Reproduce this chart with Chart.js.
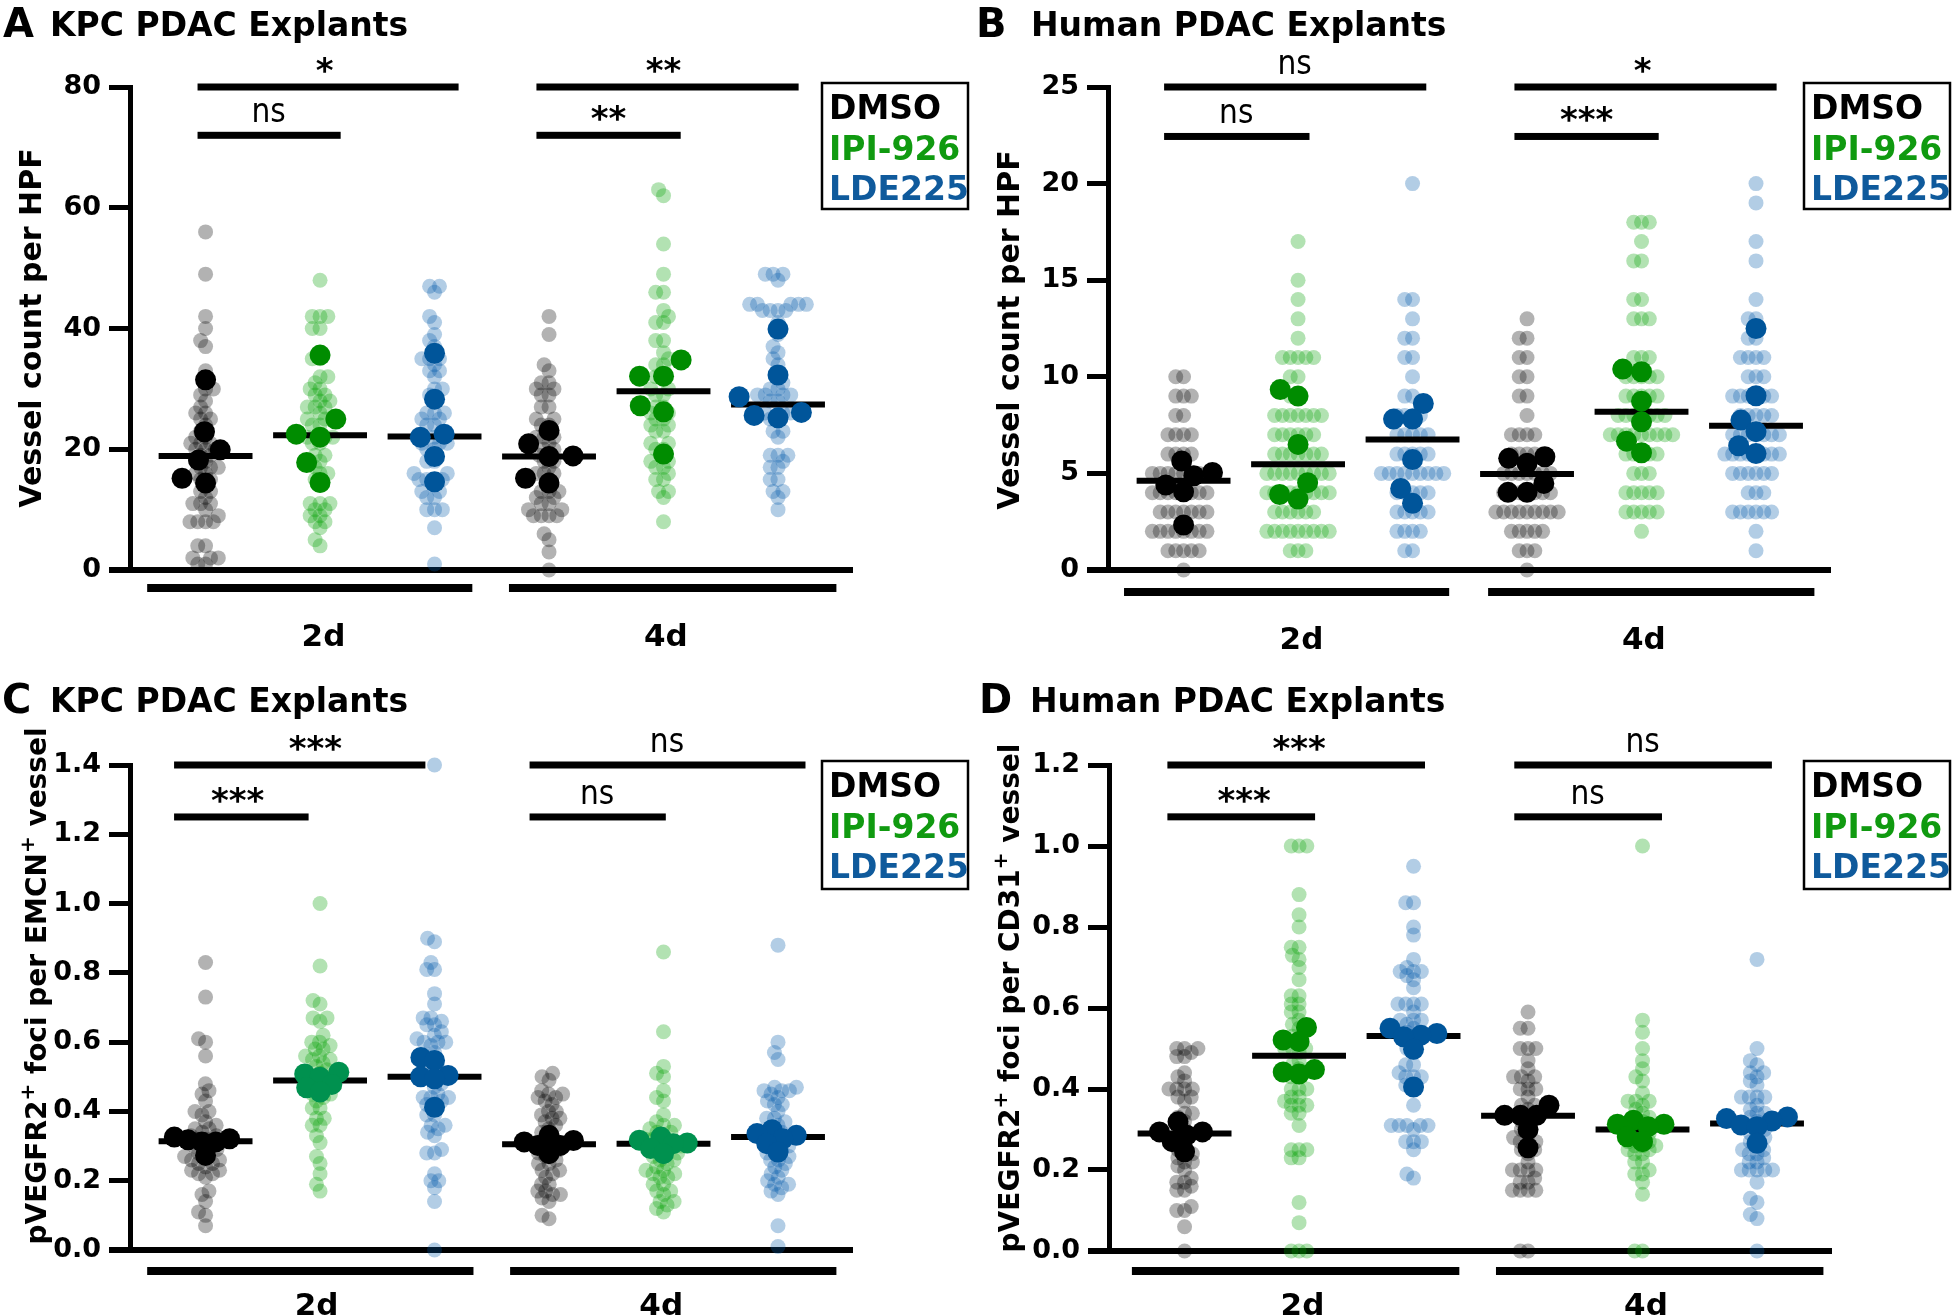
<!DOCTYPE html>
<html>
<head>
<meta charset="utf-8">
<script src="https://cdn.jsdelivr.net/npm/chart.js@4.4.1/dist/chart.umd.min.js"></script>
<style>
  html, body { margin: 0; padding: 0; background: #fff; }
  #wrap { position: relative; width: 1952px; height: 1316px; overflow: hidden; }
  canvas { position: absolute; }
</style>
</head>
<body>
<div id="wrap">
  <canvas id="cA" width="976" height="660" style="left:0;top:0"></canvas>
  <canvas id="cB" width="976" height="660" style="left:976px;top:0"></canvas>
  <canvas id="cC" width="976" height="656" style="left:0;top:660px"></canvas>
  <canvas id="cD" width="976" height="656" style="left:976px;top:660px"></canvas>
</div>
<script>
// Explant swarm plots: small faded dots = single fields, big dots = per-explant means,
// black bar = group mean. Group order: DMSO 2d, IPI-926 2d, LDE225 2d, DMSO 4d, IPI-926 4d, LDE225 4d

const TREATMENTS = ["DMSO", "IPI-926", "LDE225"];
const DAYS = ["2d", "4d"];

// ---- Panel A: KPC vessel count per HPF ----
const A_DMSO_2d = [56, 49, 42, 40, 38, 37, 33, 30, 30, 29, 28, 27, 26, 26, 25, 25, 24, 23, 22, 22, 21, 21, 21, 20, 20, 20, 19, 19, 18, 18, 17, 17, 17, 16, 16, 15, 15, 14, 13, 13, 12, 11, 11, 11, 10, 9, 8, 8, 8, 8, 4, 4, 2, 2, 2, 1, 1];
const A_IPI_2d = [48, 42, 42, 42, 40, 40, 35, 35, 32, 32, 31, 30, 30, 29, 29, 28, 28, 27, 27, 27, 26, 25, 25, 25, 24, 24, 22, 22, 22, 21, 21, 19, 19, 18, 17, 16, 16, 15, 14, 11, 11, 11, 10, 10, 9, 9, 8, 8, 7, 5, 4];
const A_LDE_2d = [47, 47, 46, 42, 41, 39, 38, 37, 35, 35, 35, 34, 33, 33, 32, 30, 30, 29, 28, 26, 26, 26, 25, 25, 24, 24, 22, 21, 21, 21, 20, 20, 18, 18, 16, 16, 15, 15, 15, 15, 13, 13, 12, 12, 10, 10, 10, 7, 1];
const A_DMSO_4d = [42, 39, 34, 33, 31, 31, 30, 30, 29, 29, 27, 27, 25, 25, 24, 24, 22, 22, 22, 21, 20, 20, 19, 19, 18, 18, 17, 16, 16, 16, 15, 13, 13, 13, 12, 12, 11, 11, 10, 10, 9, 9, 9, 9, 6, 5, 3, 0];
const A_IPI_4d = [63, 62, 54, 49, 46, 46, 43, 42, 41, 41, 38, 38, 36, 35, 34, 34, 32, 32, 30, 30, 29, 29, 27, 27, 26, 26, 25, 25, 24, 24, 23, 23, 21, 21, 20, 20, 18, 18, 17, 17, 16, 15, 15, 13, 13, 12, 8];
const A_LDE_4d = [49, 49, 49, 48, 44, 44, 44, 44, 44, 43, 43, 43, 43, 41, 39, 37, 36, 35, 34, 31, 30, 30, 29, 29, 29, 29, 28, 28, 26, 26, 26, 25, 25, 23, 23, 22, 19, 19, 19, 18, 17, 17, 15, 15, 13, 13, 12, 10];
const A_EXPLANT_DMSO_2d = [31.5, 22.9, 19.9, 18.2, 15.2, 14.4];
const A_EXPLANT_IPI_2d = [35.6, 25.0, 22.5, 22.0, 17.8, 14.5];
const A_EXPLANT_LDE_2d = [35.9, 28.3, 22.5, 22.0, 18.8, 14.6];
const A_EXPLANT_DMSO_4d = [23.1, 20.9, 18.9, 18.8, 15.2, 14.4];
const A_EXPLANT_IPI_4d = [34.8, 32.1, 32.1, 27.2, 26.2, 19.2];
const A_EXPLANT_LDE_4d = [39.9, 32.3, 28.7, 26.1, 25.6, 25.2];
const A_MEANS = [18.9, 22.3, 22.1, 18.8, 29.6, 27.4];
const A_TICKS = [0, 20, 40, 60, 80];

// ---- Panel B: human vessel count per HPF ----
const B_DMSO_2d = [0, 1, 1, 1, 1, 1, 2, 2, 2, 2, 2, 2, 2, 2, 3, 3, 3, 3, 3, 3, 3, 4, 4, 4, 4, 4, 4, 4, 4, 5, 5, 5, 5, 5, 5, 5, 5, 5, 6, 6, 6, 6, 7, 7, 7, 7, 8, 8, 9, 9, 9, 10, 10];
const B_IPI_2d = [1, 1, 1, 2, 2, 2, 2, 2, 2, 2, 2, 2, 3, 3, 3, 3, 3, 3, 4, 4, 4, 4, 4, 4, 4, 4, 4, 5, 5, 5, 5, 5, 5, 5, 5, 5, 6, 6, 6, 6, 6, 6, 6, 7, 7, 7, 7, 7, 7, 8, 8, 8, 8, 8, 8, 8, 9, 9, 10, 10, 11, 11, 11, 11, 11, 12, 13, 14, 15, 17];
const B_LDE_2d = [1, 1, 2, 2, 2, 2, 3, 3, 3, 3, 3, 4, 4, 4, 4, 4, 5, 5, 5, 5, 5, 5, 5, 5, 5, 6, 6, 6, 6, 6, 7, 7, 7, 7, 7, 8, 8, 8, 8, 9, 9, 10, 11, 11, 12, 12, 13, 14, 14, 20];
const B_DMSO_4d = [0, 1, 1, 1, 2, 2, 2, 2, 2, 3, 3, 3, 3, 3, 3, 3, 3, 3, 4, 4, 4, 4, 4, 4, 4, 5, 5, 5, 5, 5, 5, 5, 6, 6, 6, 6, 6, 7, 7, 7, 7, 8, 9, 9, 10, 10, 11, 11, 12, 12, 13];
const B_IPI_4d = [2, 3, 3, 3, 3, 3, 4, 4, 4, 4, 4, 5, 5, 5, 6, 6, 6, 6, 6, 7, 7, 7, 7, 7, 7, 7, 7, 7, 8, 8, 8, 8, 8, 8, 8, 9, 9, 9, 9, 9, 10, 10, 10, 10, 10, 11, 11, 11, 13, 13, 13, 14, 14, 16, 16, 17, 18, 18, 18];
const B_LDE_4d = [1, 2, 3, 3, 3, 3, 3, 3, 4, 4, 4, 5, 5, 5, 5, 5, 5, 6, 6, 6, 6, 6, 6, 6, 6, 7, 7, 7, 7, 7, 7, 7, 8, 8, 8, 8, 8, 9, 9, 9, 9, 9, 9, 10, 10, 10, 11, 11, 11, 11, 12, 12, 13, 13, 14, 16, 17, 19, 20];
const B_EXPLANT_DMSO_2d = [5.64, 5.05, 4.88, 4.4, 4.05, 2.33];
const B_EXPLANT_IPI_2d = [9.34, 9.0, 6.5, 4.52, 3.91, 3.67];
const B_EXPLANT_LDE_2d = [8.62, 7.81, 7.81, 5.72, 4.22, 3.45];
const B_EXPLANT_DMSO_4d = [5.86, 5.78, 5.52, 4.48, 4.02, 4.02];
const B_EXPLANT_IPI_4d = [10.4, 10.26, 8.74, 7.67, 6.67, 6.07];
const B_EXPLANT_LDE_4d = [12.5, 9.02, 7.76, 7.16, 6.43, 6.03];
const B_MEANS = [4.62, 5.48, 6.76, 4.97, 8.19, 7.47];
const B_TICKS = [0, 5, 10, 15, 20, 25];

// ---- Panel C: KPC pVEGFR2+ foci per EMCN+ vessel ----
const C_DMSO_2d = [0.83, 0.73, 0.61, 0.60, 0.56, 0.48, 0.46, 0.45, 0.43, 0.40, 0.40, 0.39, 0.37, 0.36, 0.35, 0.35, 0.34, 0.33, 0.33, 0.32, 0.32, 0.31, 0.31, 0.30, 0.30, 0.29, 0.29, 0.28, 0.27, 0.27, 0.26, 0.26, 0.25, 0.25, 0.24, 0.23, 0.23, 0.22, 0.22, 0.21, 0.17, 0.16, 0.14, 0.11, 0.10, 0.07];
const C_IPI_2d = [1.0, 0.82, 0.72, 0.71, 0.67, 0.67, 0.66, 0.62, 0.60, 0.60, 0.59, 0.58, 0.58, 0.56, 0.56, 0.55, 0.55, 0.54, 0.53, 0.52, 0.51, 0.50, 0.50, 0.49, 0.48, 0.47, 0.46, 0.45, 0.45, 0.44, 0.43, 0.41, 0.41, 0.38, 0.38, 0.36, 0.36, 0.33, 0.31, 0.27, 0.25, 0.22, 0.19, 0.17];
const C_LDE_2d = [1.40, 0.90, 0.89, 0.83, 0.81, 0.81, 0.74, 0.71, 0.67, 0.67, 0.66, 0.65, 0.65, 0.63, 0.62, 0.61, 0.60, 0.60, 0.60, 0.59, 0.57, 0.55, 0.53, 0.51, 0.50, 0.48, 0.47, 0.45, 0.44, 0.44, 0.44, 0.43, 0.42, 0.42, 0.39, 0.39, 0.36, 0.36, 0.35, 0.34, 0.33, 0.29, 0.28, 0.28, 0.22, 0.20, 0.20, 0.18, 0.14, 0.0];
const C_DMSO_4d = [0.51, 0.50, 0.49, 0.46, 0.45, 0.45, 0.44, 0.44, 0.43, 0.42, 0.40, 0.40, 0.39, 0.38, 0.38, 0.37, 0.36, 0.35, 0.34, 0.33, 0.32, 0.31, 0.30, 0.30, 0.29, 0.28, 0.28, 0.27, 0.26, 0.25, 0.25, 0.23, 0.23, 0.22, 0.21, 0.19, 0.19, 0.17, 0.17, 0.16, 0.16, 0.15, 0.14, 0.10, 0.09];
const C_IPI_4d = [0.86, 0.63, 0.53, 0.51, 0.50, 0.46, 0.44, 0.43, 0.39, 0.37, 0.36, 0.36, 0.35, 0.34, 0.34, 0.33, 0.32, 0.32, 0.31, 0.31, 0.30, 0.30, 0.30, 0.29, 0.28, 0.28, 0.27, 0.26, 0.26, 0.25, 0.24, 0.23, 0.23, 0.22, 0.22, 0.21, 0.21, 0.19, 0.19, 0.17, 0.17, 0.16, 0.14, 0.14, 0.13, 0.12, 0.11];
const C_LDE_4d = [0.88, 0.60, 0.57, 0.55, 0.47, 0.47, 0.46, 0.46, 0.46, 0.45, 0.44, 0.43, 0.42, 0.42, 0.40, 0.38, 0.38, 0.37, 0.36, 0.35, 0.34, 0.34, 0.33, 0.33, 0.32, 0.32, 0.31, 0.30, 0.30, 0.29, 0.28, 0.28, 0.27, 0.26, 0.26, 0.25, 0.24, 0.23, 0.22, 0.21, 0.20, 0.19, 0.19, 0.18, 0.17, 0.16, 0.07, 0.01];
const C_EXPLANT_DMSO_2d = [0.326, 0.321, 0.318, 0.312, 0.312, 0.273];
const C_EXPLANT_IPI_2d = [0.513, 0.508, 0.499, 0.478, 0.468, 0.456];
const C_EXPLANT_LDE_2d = [0.556, 0.547, 0.504, 0.50, 0.494, 0.412];
const C_EXPLANT_DMSO_4d = [0.331, 0.316, 0.312, 0.302, 0.302, 0.278];
const C_EXPLANT_IPI_4d = [0.326, 0.317, 0.309, 0.307, 0.293, 0.278];
const C_EXPLANT_LDE_4d = [0.347, 0.336, 0.331, 0.321, 0.307, 0.283];
const C_MEANS = [0.314, 0.489, 0.50, 0.305, 0.307, 0.326];
const C_TICKS = [0, 0.2, 0.4, 0.6, 0.8, 1.0, 1.2, 1.4];

// ---- Panel D: human pVEGFR2+ foci per CD31+ vessel ----
const D_DMSO_2d = [0.50, 0.50, 0.50, 0.49, 0.48, 0.48, 0.44, 0.43, 0.42, 0.40, 0.40, 0.40, 0.40, 0.38, 0.38, 0.37, 0.34, 0.34, 0.33, 0.32, 0.31, 0.30, 0.29, 0.28, 0.27, 0.26, 0.25, 0.24, 0.24, 0.23, 0.22, 0.22, 0.21, 0.20, 0.18, 0.17, 0.17, 0.16, 0.15, 0.15, 0.11, 0.10, 0.10, 0.06, 0.0];
const D_IPI_2d = [1.0, 1.0, 1.0, 0.88, 0.83, 0.80, 0.75, 0.75, 0.73, 0.72, 0.70, 0.67, 0.63, 0.63, 0.61, 0.61, 0.59, 0.59, 0.57, 0.56, 0.55, 0.53, 0.52, 0.50, 0.50, 0.50, 0.49, 0.47, 0.46, 0.45, 0.43, 0.43, 0.40, 0.40, 0.40, 0.38, 0.38, 0.37, 0.36, 0.36, 0.36, 0.34, 0.34, 0.31, 0.25, 0.25, 0.25, 0.23, 0.23, 0.12, 0.07, 0.0, 0.0, 0.0];
const D_LDE_2d = [0.95, 0.86, 0.86, 0.80, 0.78, 0.72, 0.70, 0.69, 0.69, 0.69, 0.68, 0.67, 0.65, 0.61, 0.61, 0.61, 0.61, 0.59, 0.57, 0.57, 0.57, 0.56, 0.55, 0.54, 0.53, 0.52, 0.51, 0.50, 0.49, 0.46, 0.46, 0.44, 0.43, 0.43, 0.43, 0.41, 0.41, 0.36, 0.31, 0.31, 0.31, 0.31, 0.31, 0.30, 0.27, 0.27, 0.27, 0.25, 0.19, 0.18];
const D_DMSO_4d = [0.59, 0.55, 0.55, 0.50, 0.50, 0.50, 0.47, 0.45, 0.43, 0.43, 0.43, 0.42, 0.40, 0.40, 0.40, 0.38, 0.36, 0.36, 0.35, 0.34, 0.33, 0.32, 0.31, 0.30, 0.29, 0.28, 0.27, 0.27, 0.27, 0.25, 0.25, 0.24, 0.22, 0.20, 0.20, 0.20, 0.20, 0.18, 0.17, 0.17, 0.15, 0.15, 0.15, 0.15, 0.0, 0.0];
const D_IPI_4d = [1.0, 0.57, 0.54, 0.50, 0.47, 0.45, 0.43, 0.42, 0.39, 0.37, 0.37, 0.37, 0.36, 0.35, 0.34, 0.33, 0.32, 0.32, 0.31, 0.31, 0.30, 0.30, 0.29, 0.29, 0.28, 0.28, 0.27, 0.27, 0.26, 0.26, 0.26, 0.25, 0.25, 0.24, 0.24, 0.22, 0.22, 0.20, 0.19, 0.19, 0.17, 0.14, 0.0, 0.0];
const D_LDE_4d = [0.72, 0.50, 0.47, 0.46, 0.44, 0.44, 0.43, 0.42, 0.41, 0.38, 0.38, 0.38, 0.38, 0.36, 0.35, 0.34, 0.34, 0.33, 0.32, 0.31, 0.30, 0.30, 0.29, 0.28, 0.28, 0.27, 0.26, 0.25, 0.25, 0.24, 0.24, 0.23, 0.22, 0.22, 0.20, 0.20, 0.20, 0.20, 0.20, 0.17, 0.13, 0.12, 0.09, 0.08, 0.0];
const D_EXPLANT_DMSO_2d = [0.319, 0.294, 0.294, 0.286, 0.27, 0.245];
const D_EXPLANT_IPI_2d = [0.552, 0.521, 0.517, 0.448, 0.442, 0.437];
const D_EXPLANT_LDE_2d = [0.55, 0.537, 0.533, 0.529, 0.498, 0.405];
const D_EXPLANT_DMSO_4d = [0.36, 0.335, 0.335, 0.335, 0.30, 0.255];
const D_EXPLANT_IPI_4d = [0.323, 0.313, 0.313, 0.307, 0.282, 0.27];
const D_EXPLANT_LDE_4d = [0.331, 0.327, 0.321, 0.311, 0.307, 0.266];
const D_MEANS = [0.29, 0.482, 0.531, 0.334, 0.30, 0.315];
const D_TICKS = [0, 0.2, 0.4, 0.6, 0.8, 1.0, 1.2];

// -----------------------------------------------------------------------
// Styling
// -----------------------------------------------------------------------
const FONT = "'DejaVu Sans', sans-serif";
const SMALL_COLORS = ["rgba(0,0,0,0.3)", "rgba(0,160,0,0.3)", "rgba(0,90,170,0.3)"];
const BIG_COLORS = ["#000000", "#008c00", "#00559a"];
const LEGEND_COLORS = ["#000000", "#109a10", "#0f5a9c"];
const SMALL_R = 7.5;
const BIG_R = 10.5;
const SMALL_GAP = 7.8;   // px between neighbouring faded dots in the swarm

Chart.defaults.font.family = FONT;

const PANELS = [
    {
        canvas: "cA", yMax: 80, ticks: A_TICKS, decimals: 0,
        small: [A_DMSO_2d, A_IPI_2d, A_LDE_2d, A_DMSO_4d, A_IPI_4d, A_LDE_4d],
        big: [A_EXPLANT_DMSO_2d, A_EXPLANT_IPI_2d, A_EXPLANT_LDE_2d, A_EXPLANT_DMSO_4d, A_EXPLANT_IPI_4d, A_EXPLANT_LDE_4d],
        means: A_MEANS, bigGap: 24, bigGreen: "#008c00",
        pad: { left: 0, top: 87, right: 123, bottom: 90 }, axisW: 130,
        letter: "A", letterX: 3, title: "KPC PDAC Explants", titleX: 50, titleY: 36,
        yTitle: [["Vessel count per HPF", 0]], yTitleX: 41, yTitleY: 328, yTitleSize: 30,
        sig: [
            { x0: -0.07, x1: 2.21, v: 80, t: "*", tx: 1.04 },
            { x0: -0.07, x1: 1.18, v: 72, t: "ns", tx: 0.55 },
            { x0: 2.89, x1: 5.18, v: 80, t: "**", tx: 4.0 },
            { x0: 2.89, x1: 4.15, v: 72, t: "**", tx: 3.52 },
        ],
        bars: [[-0.51, 2.33], [2.65, 5.51]], barY: 588, labelX: [1.03, 4.02], labelY: 646,
        legend: { x: 822, y: 83, w: 146, h: 126 },
    },
    {
        canvas: "cB", yMax: 25, ticks: B_TICKS, decimals: 0,
        small: [B_DMSO_2d, B_IPI_2d, B_LDE_2d, B_DMSO_4d, B_IPI_4d, B_LDE_4d],
        big: [B_EXPLANT_DMSO_2d, B_EXPLANT_IPI_2d, B_EXPLANT_LDE_2d, B_EXPLANT_DMSO_4d, B_EXPLANT_IPI_4d, B_EXPLANT_LDE_4d],
        means: B_MEANS, bigGap: 19, bigGreen: "#008c00",
        pad: { left: 0, top: 87, right: 121, bottom: 90 }, axisW: 132,
        letter: "B", letterX: 0, title: "Human PDAC Explants", titleX: 55, titleY: 36,
        yTitle: [["Vessel count per HPF", 0]], yTitleX: 43, yTitleY: 330, yTitleSize: 30,
        sig: [
            { x0: -0.17, x1: 2.12, v: 25, t: "ns", tx: 0.97 },
            { x0: -0.17, x1: 1.10, v: 22.44, t: "ns", tx: 0.46 },
            { x0: 2.89, x1: 5.18, v: 25, t: "*", tx: 4.01 },
            { x0: 2.89, x1: 4.15, v: 22.44, t: "***", tx: 3.52 },
        ],
        bars: [[-0.52, 2.32], [2.66, 5.51]], barY: 592, labelX: [1.03, 4.02], labelY: 649,
        legend: { x: 828, y: 83, w: 146, h: 126 },
    },
    {
        canvas: "cC", yMax: 1.4, ticks: C_TICKS, decimals: 1,
        small: [C_DMSO_2d, C_IPI_2d, C_LDE_2d, C_DMSO_4d, C_IPI_4d, C_LDE_4d],
        big: [C_EXPLANT_DMSO_2d, C_EXPLANT_IPI_2d, C_EXPLANT_LDE_2d, C_EXPLANT_DMSO_4d, C_EXPLANT_IPI_4d, C_EXPLANT_LDE_4d],
        means: C_MEANS, bigGap: 14, bigGreen: "#00914f",
        pad: { left: 0, top: 105, right: 123, bottom: 66 }, axisW: 130,
        letter: "C", letterX: 2, title: "KPC PDAC Explants", titleX: 50, titleY: 52,
        yTitle: [["pVEGFR2", 0], ["+", 1], [" foci per EMCN", 0], ["+", 1], [" vessel", 0]],
        yTitleX: 46, yTitleY: 326, yTitleSize: 28,
        sig: [
            { x0: -0.275, x1: 1.92, v: 1.4, t: "***", tx: 0.96 },
            { x0: -0.275, x1: 0.90, v: 1.25, t: "***", tx: 0.28 },
            { x0: 2.83, x1: 5.24, v: 1.4, t: "ns", tx: 4.03 },
            { x0: 2.83, x1: 4.02, v: 1.25, t: "ns", tx: 3.42 },
        ],
        bars: [[-0.51, 2.34], [2.66, 5.51]], barY: 611, labelX: [0.97, 3.98], labelY: 655,
        legend: { x: 822, y: 101, w: 146, h: 128 },
    },
    {
        canvas: "cD", yMax: 1.2, ticks: D_TICKS, decimals: 1,
        small: [D_DMSO_2d, D_IPI_2d, D_LDE_2d, D_DMSO_4d, D_IPI_4d, D_LDE_4d],
        big: [D_EXPLANT_DMSO_2d, D_EXPLANT_IPI_2d, D_EXPLANT_LDE_2d, D_EXPLANT_DMSO_4d, D_EXPLANT_IPI_4d, D_EXPLANT_LDE_4d],
        means: D_MEANS, bigGap: 16, bigGreen: "#008c00",
        pad: { left: 0, top: 105, right: 120, bottom: 65 }, axisW: 133,
        letter: "D", letterX: 3, title: "Human PDAC Explants", titleX: 54, titleY: 52,
        yTitle: [["pVEGFR2", 0], ["+", 1], [" foci per CD31", 0], ["+", 1], [" vessel", 0]],
        yTitleX: 43, yTitleY: 338, yTitleSize: 28,
        sig: [
            { x0: -0.15, x1: 2.10, v: 1.2, t: "***", tx: 1.0 },
            { x0: -0.15, x1: 1.14, v: 1.072, t: "***", tx: 0.52 },
            { x0: 2.88, x1: 5.13, v: 1.2, t: "ns", tx: 4.0 },
            { x0: 2.88, x1: 4.17, v: 1.072, t: "ns", tx: 3.52 },
        ],
        bars: [[-0.46, 2.40], [2.72, 5.58]], barY: 611, labelX: [1.03, 4.03], labelY: 655,
        legend: { x: 828, y: 101, w: 146, h: 128 },
    },
];

// -----------------------------------------------------------------------
// Beeswarm: horizontal offsets (in x units) so dots of one group don't pile up
// -----------------------------------------------------------------------
function swarmOffsets(values, chart, gap) {
    const ys = chart.scales.y, xs = chart.scales.x;
    const pxPerUnit = xs.getPixelForValue(1) - xs.getPixelForValue(0);
    const order = values.map((v, i) => i).sort((a, b) => values[a] - values[b]);
    const placed = [];
    const offs = new Array(values.length).fill(0);
    order.forEach((i) => {
        const py = ys.getPixelForValue(values[i]);
        const near = placed.filter((p) => Math.abs(p.py - py) < gap);
        const cands = [0];
        near.forEach((p) => {
            const dx = Math.sqrt(gap * gap - (p.py - py) * (p.py - py));
            cands.push(p.px + dx, p.px - dx);
        });
        cands.sort((a, b) => Math.abs(a) - Math.abs(b) || a - b);
        const best = cands.find((c) =>
            near.every((p) => (p.px - c) ** 2 + (p.py - py) ** 2 >= gap * gap - 1e-6));
        placed.push({ px: best, py: py });
        offs[i] = best / pxPerUnit;
    });
    return offs;
}

// -----------------------------------------------------------------------
// Annotation plugin: x axis line, titles, significance bars, group bars, legend
// -----------------------------------------------------------------------
function drawRotatedTitle(ctx, segs, x, cy, size) {
    const main = "bold " + size + "px " + FONT;
    const sup = "bold " + Math.round(size * 0.72) + "px " + FONT;
    ctx.save();
    ctx.translate(x, cy);
    ctx.rotate(-Math.PI / 2);
    let total = 0;
    segs.forEach((s) => { ctx.font = s[1] ? sup : main; total += ctx.measureText(s[0]).width; });
    let cx = -total / 2;
    ctx.fillStyle = "#000";
    ctx.textAlign = "left";
    ctx.textBaseline = "alphabetic";
    segs.forEach((s) => {
        ctx.font = s[1] ? sup : main;
        ctx.fillText(s[0], cx, s[1] ? -size * 0.42 : 0);
        cx += ctx.measureText(s[0]).width;
    });
    ctx.restore();
}

const annotate = {
    id: "annotate",
    beforeDatasetsDraw(chart, args, P) {
        const { ctx, chartArea } = chart;
        const y0 = chart.scales.y.getPixelForValue(0);
        ctx.save();
        ctx.fillStyle = "#000";
        ctx.fillRect(chartArea.left - 21, y0 - 3, chartArea.right - chartArea.left + 21, 6);
        ctx.restore();
    },
    afterDraw(chart, args, P) {
        const { ctx } = chart;
        const xs = chart.scales.x, ys = chart.scales.y;
        ctx.save();
        ctx.fillStyle = "#000";
        ctx.textBaseline = "alphabetic";

        // panel letter + title
        ctx.textAlign = "left";
        ctx.font = "bold 40px " + FONT;
        ctx.fillText(P.letter, P.letterX, P.titleY + 1);
        ctx.font = "bold 33px " + FONT;
        ctx.fillText(P.title, P.titleX, P.titleY);

        drawRotatedTitle(ctx, P.yTitle, P.yTitleX, P.yTitleY, P.yTitleSize);

        // significance bars
        P.sig.forEach((s) => {
            const a = xs.getPixelForValue(s.x0), b = xs.getPixelForValue(s.x1);
            const py = ys.getPixelForValue(s.v);
            ctx.fillRect(a, py - 3.5, b - a, 7);
            ctx.textAlign = "center";
            if (s.t === "ns") {
                ctx.font = "33px 'DejaVu Sans Condensed', " + FONT;
                ctx.fillText(s.t, xs.getPixelForValue(s.tx), py - 13);
            } else {
                ctx.font = "bold 34px " + FONT;
                ctx.fillText(s.t, xs.getPixelForValue(s.tx), py - 5);
            }
        });

        // day group bars and labels
        P.bars.forEach((r, k) => {
            const a = xs.getPixelForValue(r[0]), b = xs.getPixelForValue(r[1]);
            ctx.fillRect(a, P.barY - 4, b - a, 8);
            ctx.textAlign = "center";
            ctx.font = "bold 31px " + FONT;
            ctx.fillText(DAYS[k], xs.getPixelForValue(P.labelX[k]), P.labelY);
        });

        // legend box
        const L = P.legend;
        ctx.lineWidth = 2.5;
        ctx.strokeStyle = "#000";
        ctx.strokeRect(L.x, L.y, L.w, L.h);
        ctx.textAlign = "left";
        ctx.font = "bold 33px " + FONT;
        TREATMENTS.forEach((t, k) => {
            ctx.fillStyle = LEGEND_COLORS[k];
            ctx.fillText(t, L.x + 7, L.y + 36 + k * 40.5);
        });
        ctx.restore();
    },
};

// -----------------------------------------------------------------------
// Build one chart per panel
// -----------------------------------------------------------------------
function buildPanel(P) {
    const datasets = [];
    P.small.forEach((vals, g) => {
        const t = g % 3;
        datasets.push({
            type: "scatter", role: "small", group: g,
            data: vals.map((v) => ({ x: g, y: v })),
            pointRadius: SMALL_R, pointBackgroundColor: SMALL_COLORS[t], pointBorderWidth: 0,
            order: 3, clip: false,
        });
    });
    P.means.forEach((m, g) => {
        datasets.push({
            type: "line",
            data: [{ x: g - 0.41, y: m }, { x: g + 0.41, y: m }],
            borderColor: "#000", borderWidth: 6, borderCapStyle: "butt",
            pointRadius: 0, order: 2, clip: false,
        });
    });
    P.big.forEach((vals, g) => {
        const t = g % 3;
        datasets.push({
            type: "scatter", role: "big", group: g,
            data: vals.map((v) => ({ x: g, y: v })),
            pointRadius: BIG_R, pointBorderWidth: 0,
            pointBackgroundColor: t === 1 ? P.bigGreen : BIG_COLORS[t],
            order: 1, clip: false,
        });
    });

    const chart = new Chart(document.getElementById(P.canvas), {
        type: "scatter",
        data: { datasets },
        plugins: [annotate],
        options: {
            responsive: false,
            animation: false,
            events: [],
            layout: { padding: P.pad },
            plugins: { legend: { display: false }, tooltip: { enabled: false }, annotate: P },
            scales: {
                x: { type: "linear", min: -0.66, max: 5.655, display: false },
                y: {
                    type: "linear", position: "left", min: 0, max: P.yMax,
                    afterFit: (s) => { s.width = P.axisW; },
                    afterBuildTicks: (s) => { s.ticks = P.ticks.map((v) => ({ value: v })); },
                    border: { display: true, color: "#000", width: 5 },
                    grid: { drawOnChartArea: false, drawTicks: true, tickLength: 21, tickWidth: 5, tickColor: "#000", color: "#000" },
                    ticks: {
                        color: "#000", padding: 8,
                        font: { size: 27, weight: "bold", family: FONT },
                        callback: (v) => Number(v).toFixed(P.decimals),
                    },
                },
            },
        },
    });

    // lay the dots out as a swarm now that the scales know their pixel sizes
    chart.data.datasets.forEach((ds) => {
        if (!ds.role) return;
        const vals = ds.data.map((p) => p.y);
        const offs = swarmOffsets(vals, chart, ds.role === "small" ? SMALL_GAP : P.bigGap);
        ds.data = vals.map((v, i) => ({ x: ds.group + offs[i], y: v }));
    });
    chart.update("none");
    return chart;
}

PANELS.forEach(buildPanel);
</script>
</body>
</html>
